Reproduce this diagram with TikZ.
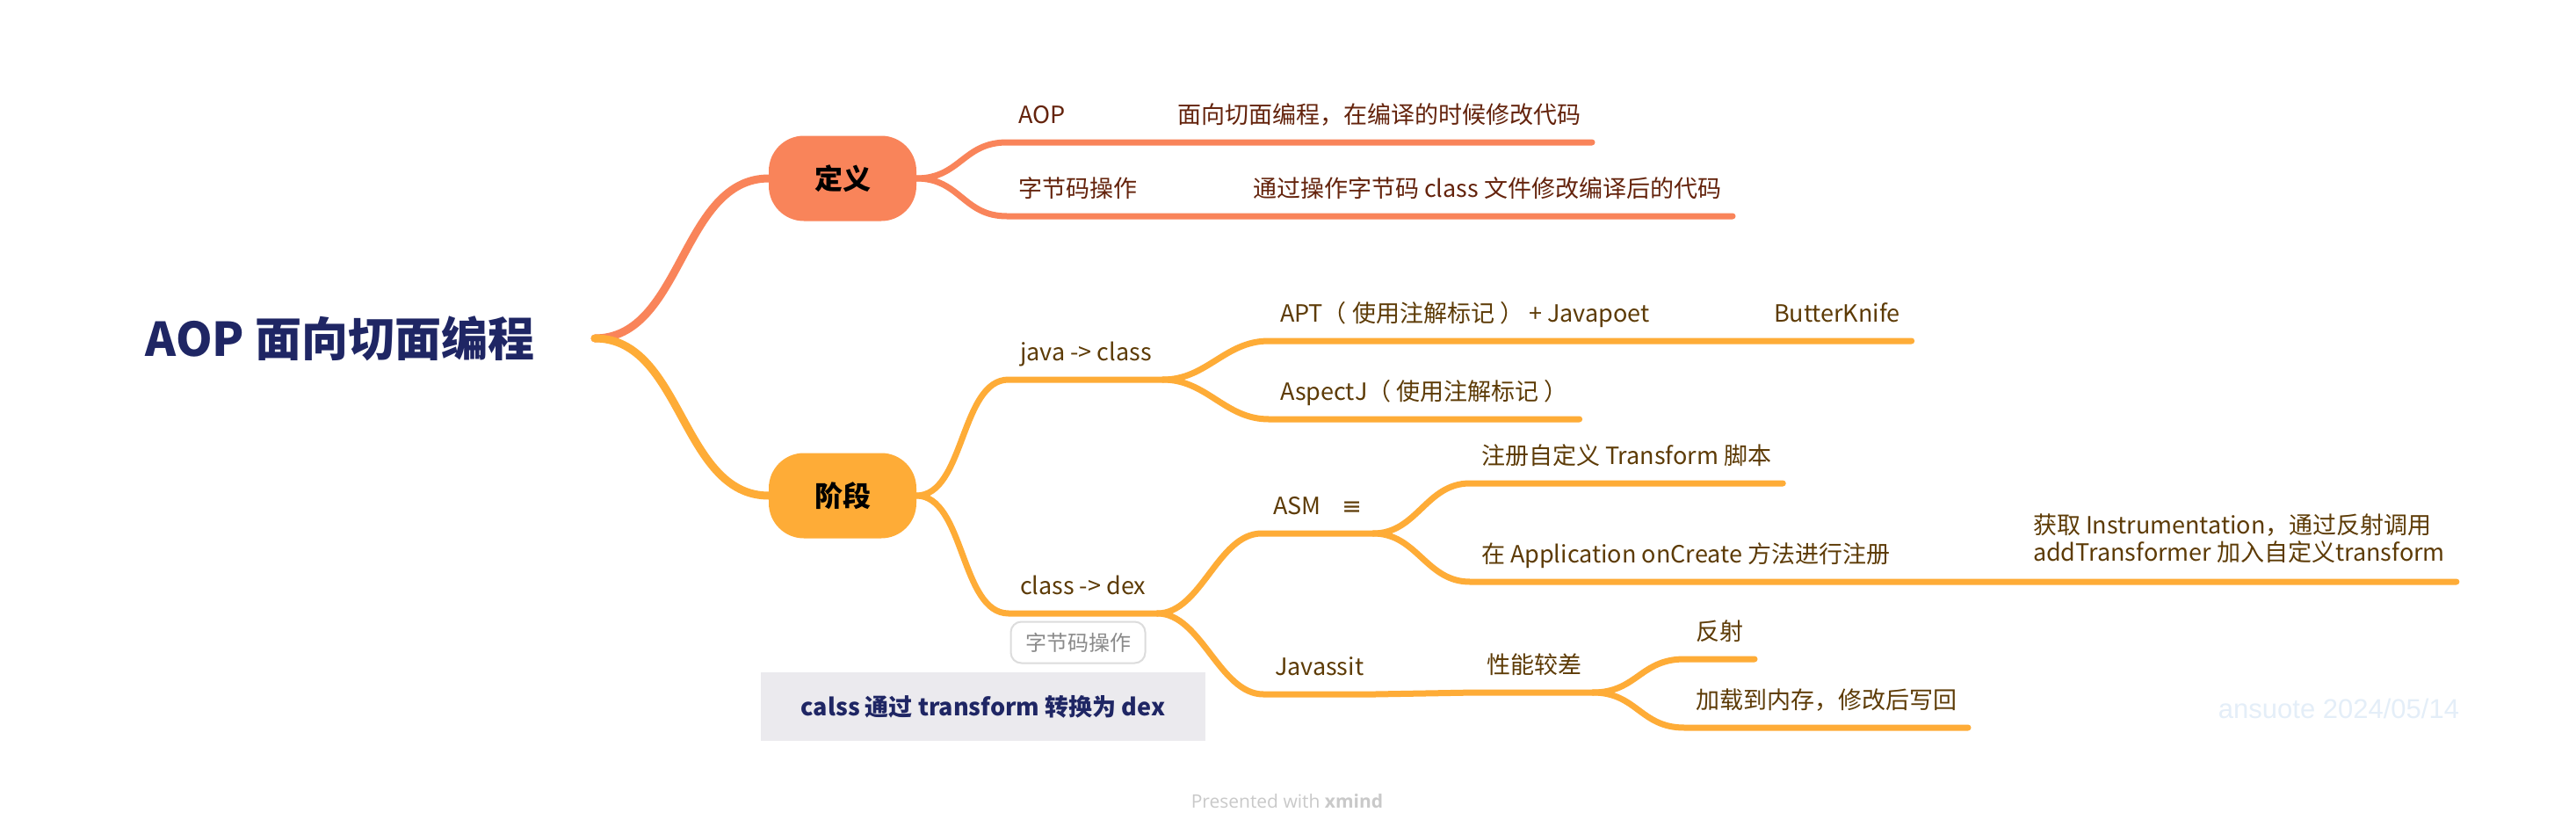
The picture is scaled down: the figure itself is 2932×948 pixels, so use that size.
\documentclass[tikz,border=0pt]{standalone}
\usepackage{fontspec}
\setmainfont{Noto Sans CJK SC}
\newfontfamily\symfont{DejaVu Sans}
\newfontfamily\stampfont{Liberation Sans}
\newfontfamily\footfont{Open Sans}
\usepackage{tikz}
\usetikzlibrary{positioning}
\definecolor{navy}{HTML}{1F2664}
\definecolor{coral}{HTML}{F9845A}
\definecolor{amber}{HTML}{FEAC37}
\definecolor{rust}{HTML}{64230C}
\definecolor{umber}{HTML}{5D3B06}
\definecolor{mist}{HTML}{EBEAEE}
\definecolor{tagline}{HTML}{DCDCDC}
\definecolor{tagtext}{HTML}{8A8A8A}
\definecolor{footgrey}{HTML}{C9C9C9}
\definecolor{stamp}{HTML}{E4EEF8}

\begin{document}
\begin{tikzpicture}[x=1pt,y=-1pt,every node/.style={inner sep=0pt,outer sep=0pt},
  hub/.style={rounded corners=40pt,fill=#1,minimum width=168pt,minimum height=97pt,font=\fontsize{32}{38}\selectfont\bfseries},
  topic/.style={anchor=south west,inner xsep=13pt,inner ysep=22pt,text depth=0pt,align=left,text=#1,font=\fontsize{27}{31}\selectfont},
  ln/.style={draw=#1,line width=7pt,line cap=round},
  trunk/.style={ln=#1,line width=9pt}]
  \path[fill=white,use as bounding box] (0,0) rectangle (2932,948);
  \node[font=\fontsize{53}{60}\selectfont\bfseries,text=navy,minimum width=580pt] (root) at (387,385) {AOP 面向切面编程};
  \node[hub=coral] (def) at (959,203) {定义};
  \node[hub=amber] (stage) at (959,564) {阶段};
  \node[topic=rust] (aop) at (1146,162) {AOP};
  \node[topic=rust] (aopnote) at (1327,162) {面向切面编程，在编译的时候修改代码};
  \node[topic=rust] (byte) at (1146,246) {字节码操作};
  \node[topic=rust] (bytenote) at (1413,246) {通过操作字节码 class 文件修改编译后的代码};
  \node[topic=umber] (j2c) at (1148,432) {java -> class};
  \node[topic=umber] (c2d) at (1148,698) {class -> dex};
  \node[topic=umber] (apt) at (1444,388) {APT（ 使用注解标记 ） + Javapoet};
  \node[topic=umber] (knife) at (2006,388) {ButterKnife};
  \node[topic=umber] (aspectj) at (1444,477) {AspectJ（ 使用注解标记 ）};
  \node[topic=umber] (asm) at (1436,607) {ASM\hspace{24pt}{\symfont ≡}};
  \node[topic=umber] (javassist) at (1438,790) {Javassit};
  \node[topic=umber] (regist) at (1673,550) {注册自定义 Transform 脚本};
  \node[topic=umber] (oncreate) at (1673,662) {在 Application onCreate 方法进行注册};
  \node[topic=umber,inner ysep=24pt] (instr) at (2301,662) {获取 Instrumentation，通过反射调用\\addTransformer 加入自定义transform};
  \node[topic=umber] (slow) at (1679,788) {性能较差};
  \node[topic=umber] (reflect) at (1917,750) {反射};
  \node[topic=umber] (load) at (1917,828) {加载到内存，修改后写回};
  \node[draw=tagline,line width=2pt,rounded corners=12pt,fill=white,minimum width=153pt,minimum height=47pt,text=tagtext,font=\fontsize{24}{28}\selectfont] (tag) at (1227,731) {字节码操作};
  \node[fill=mist,minimum width=506pt,minimum height=78pt,text=navy,font=\fontsize{27}{31}\selectfont\bfseries] (summary) at (1119,804) {calss 通过 transform 转换为 dex};
  \node[text=footgrey,font=\footfont\fontsize{21}{25}\selectfont] (footer) at (1465,912) {Presented with \textbf{xmind}};
  \node[text=stamp,font=\stampfont\fontsize{31}{37}\selectfont] (date) at (2662,806) {ansuote 2024/05/14};
  \draw[trunk=coral] (root.east) .. controls +(100,0) and +(-100,0) .. (def.west);
  \draw[trunk=amber] (root.east) .. controls +(100,0) and +(-100,0) .. (stage.west);
  \draw[ln=coral] (def.east) .. controls +(50,0) and +(-50,0) .. (aop.south west) -- (aop.south east) -- (aopnote.south west) -- (aopnote.south east);
  \draw[ln=coral] (def.east) .. controls +(50,0) and +(-50,0) .. (byte.south west) -- (byte.south east) -- (bytenote.south west) -- (bytenote.south east);
  \draw[ln=amber] (stage.east) .. controls +(55,0) and +(-55,0) .. (j2c.south west) -- (j2c.south east);
  \draw[ln=amber] (stage.east) .. controls +(55,0) and +(-55,0) .. (c2d.south west) -- (c2d.south east);
  \draw[ln=amber] (j2c.south east) .. controls +(50,0) and +(-50,0) .. (apt.south west) -- (apt.south east) -- (knife.south west) -- (knife.south east);
  \draw[ln=amber] (j2c.south east) .. controls +(50,0) and +(-50,0) .. (aspectj.south west) -- (aspectj.south east);
  \draw[ln=amber] (c2d.south east) .. controls +(50,0) and +(-50,0) .. (asm.south west) -- (asm.south east);
  \draw[ln=amber] (c2d.south east) .. controls +(50,0) and +(-50,0) .. (javassist.south west) -- (javassist.south east) -- (slow.south west) -- (slow.south east);
  \draw[ln=amber] (asm.south east) .. controls +(50,0) and +(-50,0) .. (regist.south west) -- (regist.south east);
  \draw[ln=amber] (asm.south east) .. controls +(50,0) and +(-50,0) .. (oncreate.south west) -- (oncreate.south east) -- (instr.south west) -- (instr.south east);
  \draw[ln=amber] (slow.south east) .. controls +(50,0) and +(-50,0) .. (reflect.south west) -- (reflect.south east);
  \draw[ln=amber] (slow.south east) .. controls +(50,0) and +(-50,0) .. (load.south west) -- (load.south east);
\end{tikzpicture}
\end{document}
